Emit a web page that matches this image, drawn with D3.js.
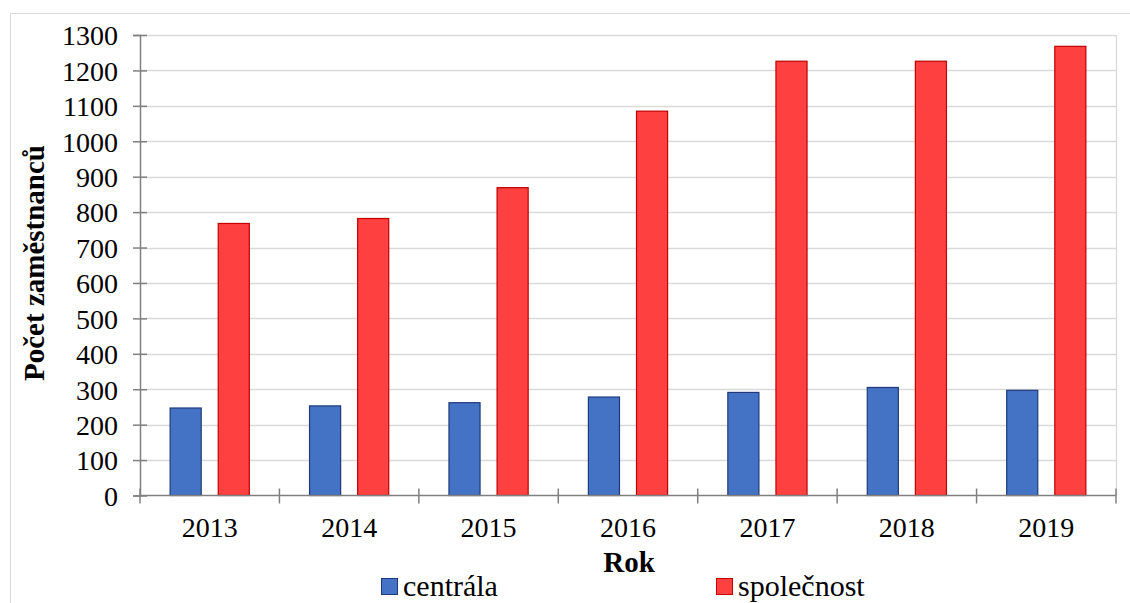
<!DOCTYPE html>
<html>
<head>
<meta charset="utf-8">
<script src="https://cdn.jsdelivr.net/npm/d3@7"></script>
<style>
  html, body { margin: 0; padding: 0; background: #fff; }
  svg { display: block; }
  text { font-family: "Liberation Serif", "Times New Roman", serif; fill: #000; }
</style>
</head>
<body>
<svg id="chart" width="1130" height="603"></svg>
<script>
// Employee headcount per year: headquarters vs. whole company
const years = ["2013", "2014", "2015", "2016", "2017", "2018", "2019"];
const centrala = [247, 253, 262, 278, 291, 305, 297];
const spolecnost = [768, 782, 869, 1085, 1226, 1226, 1268];
const seriesNames = ["centrála", "společnost"];
const yTicks = [0, 100, 200, 300, 400, 500, 600, 700, 800, 900, 1000, 1100, 1200, 1300];

const fills = { "centrála": "#4472c4", "společnost": "#ff4040" };
const strokes = { "centrála": "#1f3a7a", "společnost": "#c00000" };
const serif = "'Liberation Serif', 'Times New Roman', serif";

const svg = d3.select("#chart");

// outer chart frame
svg.append("rect")
  .attr("x", 10.5).attr("y", 13.5)
  .attr("width", 1130).attr("height", 600)
  .attr("fill", "none").attr("stroke", "#d9d9d9").attr("stroke-width", 1);

const plot = { left: 140, right: 1116, top: 35, bottom: 495.5 };

const x0 = d3.scaleBand().domain(years).range([plot.left, plot.right]).padding(0);
const bw = x0.bandwidth();
const x1 = d3.scaleBand().domain(seriesNames)
  .range([bw * 0.216, bw * 0.784]).paddingInner(0.354).paddingOuter(0);
const y = d3.scaleLinear().domain([0, 1300]).range([plot.bottom, plot.top]);

// horizontal gridlines
svg.append("g")
  .selectAll("line")
  .data(yTicks.filter(d => d > 0))
  .join("line")
  .attr("x1", plot.left).attr("x2", plot.right)
  .attr("y1", d => Math.round(y(d)) + 0.5).attr("y2", d => Math.round(y(d)) + 0.5)
  .attr("stroke", "#d9d9d9").attr("stroke-width", 1.3);

// right border of plot area
svg.append("line")
  .attr("x1", plot.right + 0.5).attr("x2", plot.right + 0.5)
  .attr("y1", plot.top).attr("y2", plot.bottom)
  .attr("stroke", "#d9d9d9").attr("stroke-width", 1.3);

// bars
const data = years.map((yr, i) => ({ year: yr, values: [
  { key: "centrála", value: centrala[i] },
  { key: "společnost", value: spolecnost[i] }
]}));

const groups = svg.append("g").selectAll("g")
  .data(data).join("g")
  .attr("transform", d => `translate(${x0(d.year)},0)`);

groups.selectAll("rect")
  .data(d => d.values).join("rect")
  .attr("x", d => x1(d.key))
  .attr("width", x1.bandwidth())
  .attr("y", d => y(d.value))
  .attr("height", d => y(0) - y(d.value))
  .attr("fill", d => fills[d.key])
  .attr("stroke", d => strokes[d.key])
  .attr("stroke-width", 1.2);

// y axis (cross ticks)
const yAxis = d3.axisLeft(y).tickValues(yTicks).tickFormat(d3.format("d")).tickSize(7).tickPadding(10);
const gy = svg.append("g").attr("transform", `translate(${plot.left},0)`).call(yAxis);
gy.attr("font-family", null).attr("font-size", null);
gy.select(".domain").attr("stroke", "#808080").attr("stroke-width", 1.5);
gy.selectAll(".tick line").attr("stroke", "#808080").attr("stroke-width", 1.5).attr("x2", 7).attr("x1", -7);
gy.selectAll(".tick text")
  .attr("x", -22).attr("dy", "0.35em")
  .attr("font-family", serif)
  .style("font-family", serif).style("font-size", "28px").attr("fill", "#000");

// x axis with category boundary ticks
const gx = svg.append("g").attr("transform", `translate(0,${plot.bottom})`);
gx.append("line")
  .attr("x1", plot.left).attr("x2", plot.right)
  .attr("stroke", "#808080").attr("stroke-width", 1.5);
const boundaries = years.map(yr => x0(yr)).concat([plot.right]);
gx.selectAll(".btick").data(boundaries).join("line")
  .attr("class", "btick")
  .attr("x1", d => d).attr("x2", d => d)
  .attr("y1", -7).attr("y2", 8)
  .attr("stroke", "#808080").attr("stroke-width", 1.5);
gx.selectAll(".xlabel").data(years).join("text")
  .attr("class", "xlabel")
  .attr("x", d => x0(d) + bw / 2)
  .attr("y", 41.5)
  .attr("text-anchor", "middle")
  .style("font-family", serif)
  .style("font-size", "28px")
  .text(d => d);

// axis titles
svg.append("text")
  .attr("transform", `translate(44,263) rotate(-90)`)
  .attr("text-anchor", "middle")
  .style("font-family", serif)
  .style("font-size", "29px").style("font-weight", "bold")
  .text("Počet zaměstnanců");

svg.append("text")
  .attr("x", 629).attr("y", 572)
  .attr("text-anchor", "middle")
  .style("font-family", serif)
  .style("font-size", "29px").style("font-weight", "bold")
  .text("Rok");

// legend
const legendX = [381, 716];
const legend = svg.append("g").selectAll("g")
  .data(seriesNames).join("g")
  .attr("transform", (d, i) => `translate(${legendX[i]},578)`);
legend.append("rect")
  .attr("x", 0.5).attr("y", 0.5).attr("width", 16).attr("height", 16)
  .attr("fill", d => fills[d]).attr("stroke", d => strokes[d]).attr("stroke-width", 1);
legend.append("text")
  .attr("x", 22).attr("y", 18)
  .style("font-family", serif)
  .style("font-size", "30px")
  .text(d => d);
</script>
</body>
</html>
